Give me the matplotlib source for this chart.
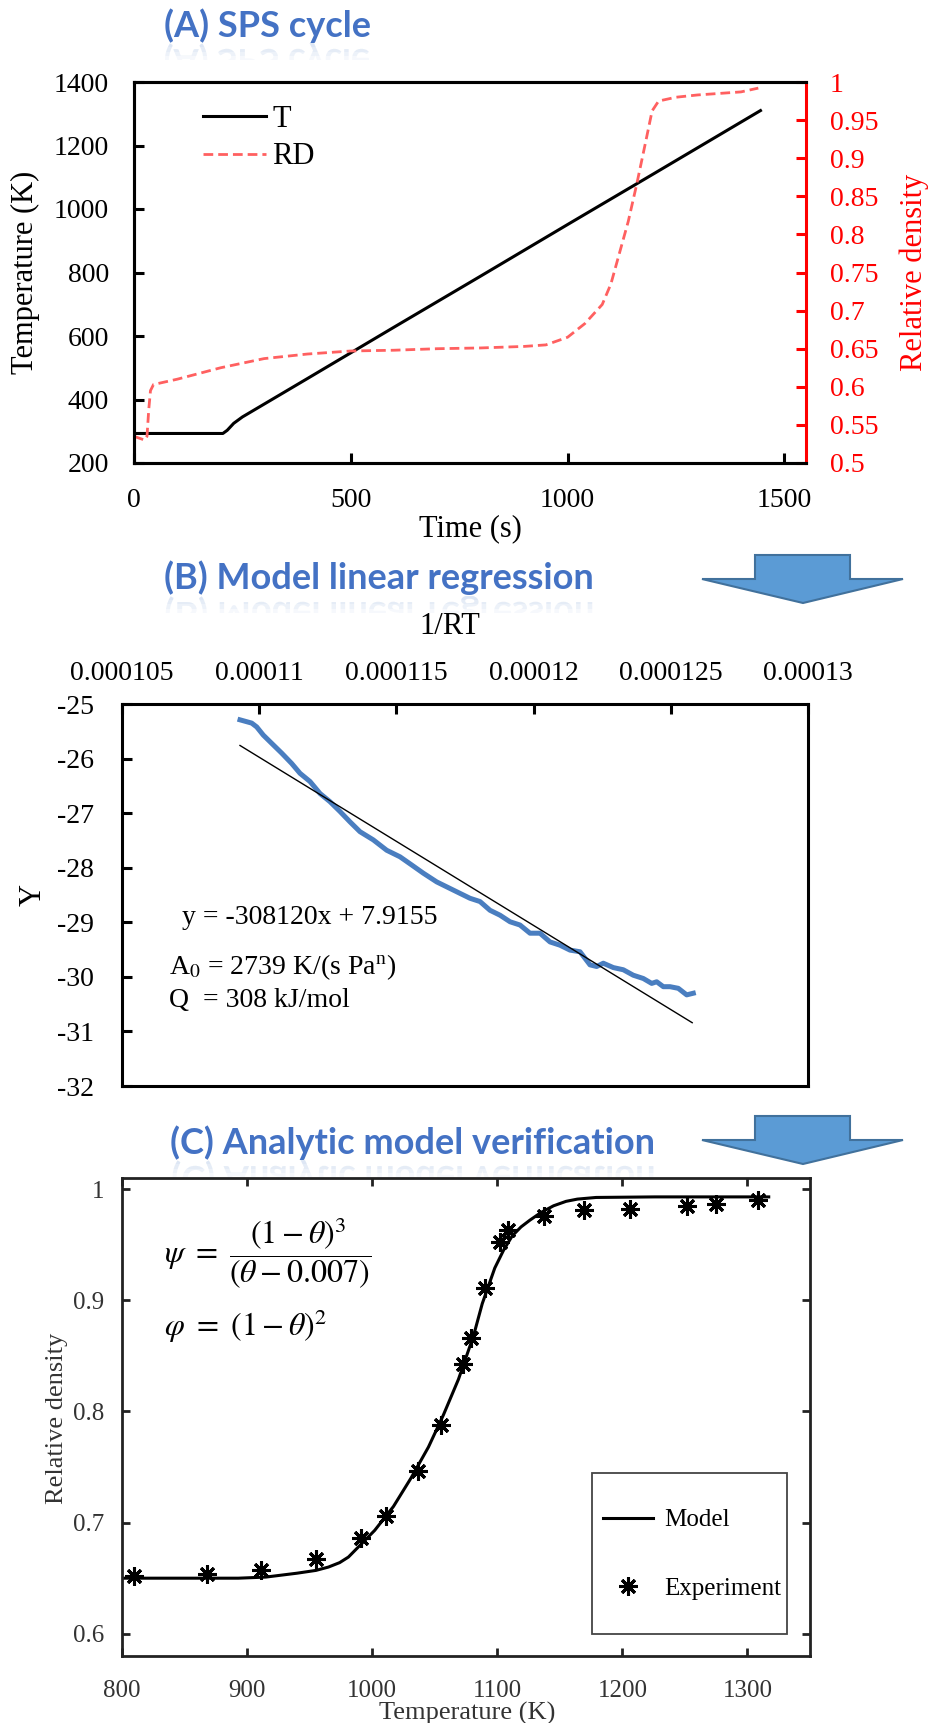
import numpy as np
import matplotlib
matplotlib.use('Agg')
import matplotlib.pyplot as plt
from matplotlib.patches import Polygon, PathPatch, Rectangle
from matplotlib.textpath import TextPath
from matplotlib.font_manager import FontProperties
from matplotlib.transforms import Affine2D, IdentityTransform

W, H = 932, 1723
plt.rcParams['font.family'] = 'Liberation Serif'
plt.rcParams['axes.unicode_minus'] = False
plt.rcParams['mathtext.fontset'] = 'stix'

# (A) SPS cycle
time_T = [0, 100, 205, 215, 230, 250, 400, 600, 800, 1000, 1200, 1445]
temp_T = [293, 293, 293, 303, 325, 345, 466, 628, 789, 951, 1112, 1310]
time_RD = [0, 10, 25, 30, 34, 38, 45, 100, 200, 300, 400, 500, 600, 700, 800, 900, 950,
           1000, 1040, 1080, 1100, 1120, 1140, 1160, 1180, 1195, 1210, 1250, 1300, 1400, 1440]
rel_dens = [0.535, 0.533, 0.530, 0.535, 0.570, 0.595, 0.603, 0.610, 0.625, 0.637, 0.643, 0.647,
            0.648, 0.650, 0.651, 0.653, 0.655, 0.665, 0.683, 0.708, 0.735, 0.776, 0.817, 0.867,
            0.921, 0.962, 0.975, 0.980, 0.983, 0.987, 0.992]

# (B) regression
inv_RT = [1.09300e-4, 1.09727e-4, 1.09909e-4, 1.10149e-4, 1.10514e-4, 1.10820e-4, 1.11184e-4,
          1.11487e-4, 1.11851e-4, 1.12216e-4, 1.12580e-4, 1.12945e-4, 1.13309e-4, 1.13673e-4,
          1.14158e-4, 1.14646e-4, 1.15131e-4, 1.15558e-4, 1.15980e-4, 1.16469e-4, 1.17074e-4,
          1.17682e-4, 1.18047e-4, 1.18411e-4, 1.18775e-4, 1.19140e-4, 1.19504e-4, 1.19869e-4,
          1.20233e-4, 1.20598e-4, 1.20962e-4, 1.21326e-4, 1.21691e-4, 1.22055e-4, 1.22299e-4,
          1.22540e-4, 1.22905e-4, 1.23269e-4, 1.23633e-4, 1.23998e-4, 1.24304e-4, 1.24486e-4,
          1.24727e-4, 1.24971e-4, 1.25273e-4, 1.25579e-4, 1.25820e-4]
Y_val = [-25.29, -25.35, -25.42, -25.57, -25.75, -25.90, -26.09, -26.27, -26.42, -26.64, -26.79,
         -26.97, -27.16, -27.34, -27.49, -27.68, -27.80, -27.95, -28.10, -28.26, -28.41, -28.56,
         -28.62, -28.78, -28.87, -28.99, -29.05, -29.20, -29.20, -29.36, -29.42, -29.51, -29.54,
         -29.78, -29.81, -29.75, -29.83, -29.87, -29.97, -30.03, -30.12, -30.09, -30.18, -30.18,
         -30.21, -30.33, -30.30]
fit_x = [1.093e-4, 1.2578e-4]
fit_y = [-25.76, -30.84]
x_ticks_B = [0.000105, 0.00011, 0.000115, 0.00012, 0.000125, 0.00013]
x_labels_B = ['0.000105', '0.00011', '0.000115', '0.00012', '0.000125', '0.00013']

# (C) model vs experiment
T_model = [800, 893, 915, 940, 955, 965, 974, 981, 988, 995, 1002, 1017, 1031, 1045, 1057,
           1069, 1081, 1088, 1098, 1105, 1112, 1119, 1126, 1135, 1145, 1155, 1164, 1179,
           1226, 1317]
RD_model = [0.650, 0.650, 0.651, 0.6545, 0.657, 0.660, 0.664, 0.669, 0.677, 0.685, 0.693,
            0.7145, 0.740, 0.768, 0.797, 0.829, 0.868, 0.897, 0.929, 0.945, 0.958, 0.966,
            0.972, 0.979, 0.985, 0.989, 0.991, 0.9925, 0.993, 0.993]
T_exp = [809.5, 867.6, 911, 954.8, 991, 1011, 1037, 1054.8, 1072.4, 1078.6, 1090.5, 1102.4,
         1108.6, 1137, 1169, 1206, 1252, 1275, 1308.6]
RD_exp = [0.652, 0.654, 0.657, 0.667, 0.686, 0.706, 0.746, 0.788, 0.843, 0.866, 0.911, 0.952,
          0.963, 0.976, 0.981, 0.982, 0.985, 0.987, 0.990]


def rect(l, t, r, b):
    return [l / W, 1 - b / H, (r - l) / W, (b - t) / H]


def fx(px):
    return px / W


def fy(py):
    return 1 - py / H


fig = plt.figure(figsize=(W / 100, H / 100), dpi=100)

# ---------- panel A
ax = fig.add_axes(rect(134, 82, 806, 463))
ax2 = ax.twinx()
lT, = ax.plot(time_T, temp_T, color='black', lw=2.2, label='T')
lR, = ax2.plot(time_RD, rel_dens, color='#FF6060', lw=2.0, ls=(0, (3.5, 1.8)), label='RD')
ax.set_xlim(0, 1550)
ax.set_ylim(200, 1400)
ax2.set_ylim(0.5, 1.0)
ax.set_xticks([0, 500, 1000, 1500])
ax.set_yticks(range(200, 1401, 200))
rd_ticks = np.arange(0.5, 1.001, 0.05)
ax2.set_yticks(rd_ticks, labels=['%g' % round(v, 2) for v in rd_ticks])
for s in list(ax.spines.values()) + list(ax2.spines.values()):
    s.set_linewidth(2.2)
ax.spines['right'].set_visible(False)
ax2.spines['right'].set_color('red')
ax.tick_params(axis='x', direction='in', length=7, width=2.2, pad=18, labelsize=20)
ax.tick_params(axis='y', direction='in', length=7, width=2.2, pad=18, labelsize=20)
ax2.tick_params(axis='y', direction='in', length=7, width=2.2, pad=17, labelsize=20,
                colors='red')
fig.text(fx(470), fy(529), 'Time (s)', ha='center', va='center', fontsize=22)
fig.text(fx(25), fy(272), 'Temperature (K)', ha='center', va='center', rotation=90,
         fontsize=22)
fig.text(fx(914), fy(272), 'Relative density', ha='center', va='center', rotation=90,
         fontsize=22, color='red')
ax2.legend(handles=[lT, lR], loc='upper left', bbox_to_anchor=(0.103, 0.94), frameon=False,
           borderpad=0, borderaxespad=0, handlelength=2.06, handletextpad=0.2,
           labelspacing=0.28, prop={'size': 22})

# ---------- panel B
bx = fig.add_axes(rect(122, 704, 808, 1086))
bx.plot(inv_RT, Y_val, color='#4A7EC0', lw=3.6, solid_joinstyle='round')
bx.plot(fit_x, fit_y, color='black', lw=1.0)
bx.set_xlim(0.000105, 0.00013)
bx.set_ylim(-32, -25)
bx.xaxis.tick_top()
bx.set_xticks(x_ticks_B, labels=x_labels_B)
bx.set_yticks(range(-32, -24), labels=[str(v) for v in range(-32, -24)])
for s in bx.spines.values():
    s.set_linewidth(2.2)
bx.tick_params(axis='x', direction='in', length=7, width=2.2, pad=13, labelsize=20)
bx.tick_params(axis='y', direction='in', length=7, width=2.2, pad=20, labelsize=20)
fig.text(fx(450), fy(626), '1/RT', ha='center', va='center', fontsize=22)
fig.text(fx(33), fy(895), 'Y', ha='center', va='center', rotation=90, fontsize=22)
fig.text(fx(182), fy(917), 'y = -308120x + 7.9155', ha='left', va='center', fontsize=20)
fig.text(fx(169), fy(967), r'A$_0$ = 2739 K/(s Pa$^\mathregular{n}$)', ha='left', va='center',
         fontsize=20)
fig.text(fx(169), fy(1001), 'Q  = 308 kJ/mol', ha='left', va='center', fontsize=20)

# ---------- panel C
cx = fig.add_axes(rect(122, 1178, 810, 1656))
cx.plot(T_model, RD_model, color='black', lw=2.2, label='Model')
cx.plot(T_exp, RD_exp, ls='none', marker=(8, 2, 0), ms=13, mew=2.2, color='black',
        label='Experiment')
cx.set_xlim(800, 1350)
cx.set_ylim(0.58, 1.01)
cx.set_xticks(range(800, 1301, 100))
cx.set_yticks([0.6, 0.7, 0.8, 0.9, 1.0], labels=['0.6', '0.7', '0.8', '0.9', '1'])
for s in cx.spines.values():
    s.set_linewidth(2.0)
    s.set_color('#222222')
cx.tick_params(axis='x', direction='in', length=6, width=2.0, top=True, pad=17,
               labelsize=18, labelcolor='#333333', color='#222222')
cx.tick_params(axis='y', direction='in', length=6, width=2.0, right=True, pad=13,
               labelsize=18, labelcolor='#333333', color='#222222')
fig.text(fx(467), fy(1713), 'Temperature (K)', ha='center', va='center', fontsize=19,
         color='#333333')
fig.text(fx(57), fy(1418), 'Relative density', ha='center', va='center', rotation=90,
         fontsize=19, color='#333333')
# legend box drawn separately so the rows can be spaced like the original
cx.add_patch(Rectangle((0.683, 0.046), 0.283, 0.337, transform=cx.transAxes,
                       facecolor='white', edgecolor='#444444', lw=1.3, zorder=4))
cx.legend(loc='center left', bbox_to_anchor=(0.699, 0.2123), borderaxespad=0,
          borderpad=0, frameon=False, handlelength=2.0, handletextpad=0.44,
          labelspacing=1.85, prop={'size': 18})
fig.text(fx(164), fy(1253), r'$\psi\ =\ \dfrac{(1-\theta)^3}{(\theta-0.007)}$', ha='left',
         va='center', fontsize=23)
fig.text(fx(164), fy(1326), r'$\varphi\ =\ (1-\theta)^2$', ha='left', va='center', fontsize=23)

# ---------- titles (with faint mirrored reflection) and arrows
TSIZE = 26
tprop = FontProperties(family='Lato', weight='bold')


def title(s, xc, base):
    fig.text(fx(xc), fy(base), s, ha='center', va='baseline', fontsize=TSIZE,
             fontweight='bold', family='Lato', color='#4472C4')
    tp = TextPath((0, 0), s, size=TSIZE * 100 / 72, prop=tprop)
    ext = tp.get_extents()
    x0 = xc - (ext.x0 + ext.x1) / 2
    yb = H - base
    tr = Affine2D().scale(1, -1).translate(x0, yb + 2 * ext.y0)
    hgt = ext.y1 - ext.y0
    bottom = yb + ext.y0
    for frac in (0.12, 0.25, 0.38, 0.5):
        pp = PathPatch(tr.transform_path(tp), transform=IdentityTransform(),
                       facecolor='#6A92D4', edgecolor='none', alpha=0.06)
        clip = Rectangle((0, bottom - frac * hgt), W, frac * hgt,
                         transform=IdentityTransform())
        pp.set_clip_path(clip)
        fig.add_artist(pp)


title('(A) SPS cycle', 267, 37)
title('(B) Model linear regression', 379, 589)
title('(C) Analytic model verification', 413, 1154)

for top in (555, 1116):
    pts = [(755, top), (850, top), (850, top + 24), (903, top + 24), (803, top + 48),
           (702, top + 24), (755, top + 24)]
    fig.add_artist(Polygon([(fx(a), fy(b)) for a, b in pts], closed=True,
                           transform=fig.transFigure, facecolor='#5B9BD5',
                           edgecolor='#41719C', lw=1.5))

fig.savefig('out.png', dpi=100)
